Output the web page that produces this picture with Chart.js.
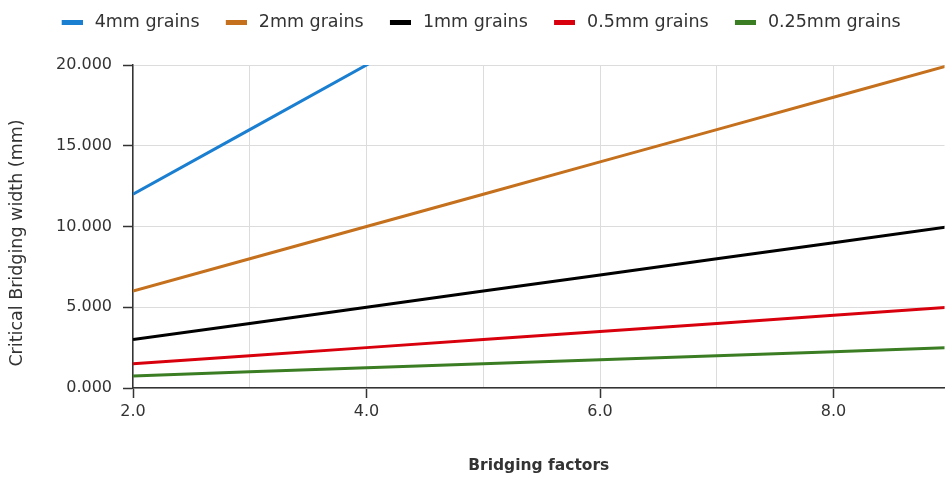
<!DOCTYPE html>
<html>
<head>
<meta charset="utf-8">
<script src="https://cdn.jsdelivr.net/npm/chart.js@4/dist/chart.umd.min.js"></script>
<style>
  html, body { margin: 0; padding: 0; background: #fff; }
  #wrap { width: 946px; height: 477px; position: relative; }
</style>
</head>
<body>
<div id="wrap"><canvas id="c"></canvas></div>
<script>
// Bridging factor on the x axis
const bridgingFactors = [2, 3, 4, 5, 6, 7, 8, 9];

// Critical bridging width (mm) for each grain size
const grains4mm   = [12, 16, 20, 24, 28, 32, 36, 40];
const grains2mm   = [6, 8, 10, 12, 14, 16, 18, 20];
const grains1mm   = [3, 4, 5, 6, 7, 8, 9, 10];
const grains05mm  = [1.5, 2, 2.5, 3, 3.5, 4, 4.5, 5];
const grains025mm = [0.75, 1, 1.25, 1.5, 1.75, 2, 2.25, 2.5];

const seriesNames = ['4mm grains', '2mm grains', '1mm grains', '0.5mm grains', '0.25mm grains'];
const seriesColors = ['#1b7fd1', '#c5701c', '#000000', '#d8000c', '#3b7d23'];

const xLabelTicks = [2, 4, 6, 8];
const yTickValues = [0, 5, 10, 15, 20];

const FONT = '"DejaVu Sans"';
const TEXT = '#333333';
const AXIS = '#333333';
const GRID = '#dcdcdc';
const PLOT_TOP = 65;

// Legend swatch: a short bar, right-aligned in a wider transparent canvas
// so that legend entries get more room between them
function swatch(color) {
  const c = document.createElement('canvas');
  c.width = 34;
  c.height = 5;
  const g = c.getContext('2d');
  g.fillStyle = color;
  g.fillRect(13, 0, 21, 5);
  return c;
}

const allSeries = [grains4mm, grains2mm, grains1mm, grains05mm, grains025mm];
const datasets = allSeries.map((vals, i) => ({
  label: seriesNames[i],
  data: bridgingFactors.map((x, j) => ({ x: x, y: vals[j] })),
  borderColor: seriesColors[i],
  backgroundColor: seriesColors[i],
  pointStyle: swatch(seriesColors[i]),
  borderWidth: 3,
  pointRadius: 0,
  tension: 0,
  fill: false
}));

// Rotated y-axis title drawn beside the axis
const yTitlePlugin = {
  id: 'yTitle',
  afterDraw(chart) {
    const ctx = chart.ctx;
    ctx.save();
    ctx.translate(17, 243);
    ctx.rotate(-Math.PI / 2);
    ctx.font = '17.5px ' + FONT;
    ctx.fillStyle = TEXT;
    ctx.textAlign = 'center';
    ctx.textBaseline = 'middle';
    ctx.fillText('Critical Bridging width (mm)', 0, 0);
    ctx.restore();
  }
};

const chart = new Chart(document.getElementById('c'), {
  type: 'line',
  data: { datasets },
  plugins: [yTitlePlugin],
  options: {
    responsive: true,
    maintainAspectRatio: false,
    animation: false,
    layout: { padding: { left: 0, right: 0, top: 4, bottom: 0 } },
    plugins: {
      tooltip: { enabled: false },
      legend: {
        position: 'top',
        labels: {
          usePointStyle: true,
          pointStyleWidth: 40.5,
          boxHeight: 5,
          padding: 10,
          color: TEXT,
          font: { family: FONT, size: 17.5 }
        }
      }
    },
    scales: {
      x: {
        type: 'linear',
        min: 2,
        max: 8.95,
        afterBuildTicks(scale) {
          const t = [];
          for (let v = 2; v <= 8; v++) t.push({ value: v });
          scale.ticks = t;
        },
        afterFit(scale) { scale.height = 89; },
        ticks: {
          padding: 4,
          color: TEXT,
          font: { family: FONT, size: 16 },
          autoSkip: false,
          maxRotation: 0,
          callback: (v) => xLabelTicks.includes(v) ? v.toFixed(1) : ''
        },
        grid: {
          color: GRID,
          lineWidth: 1,
          tickLength: 10,
          tickColor: (ctx) => (ctx.tick && xLabelTicks.includes(ctx.tick.value)) ? AXIS : 'rgba(0,0,0,0)',
          tickWidth: 1.5
        },
        border: { color: AXIS, width: 1.5 },
        title: {
          display: true,
          text: 'Bridging factors',
          color: TEXT,
          font: { family: FONT, size: 15.5, weight: 'bold' },
          padding: { top: 0, bottom: 2 }
        }
      },
      y: {
        type: 'linear',
        min: 0,
        max: 20,
        afterBuildTicks(scale) {
          scale.ticks = yTickValues.map(v => ({ value: v }));
        },
        afterFit(scale) { scale.width = 133; },
        ticks: {
          padding: 11,
          color: TEXT,
          font: { family: FONT, size: 16 },
          callback: (v) => v.toFixed(3)
        },
        grid: {
          color: GRID,
          lineWidth: 1,
          tickLength: 10,
          tickColor: AXIS,
          tickWidth: 1.5
        },
        border: { color: AXIS, width: 1.5 }
      }
    }
  }
});

// Leave room between the legend row and the plot area
const gap = PLOT_TOP - chart.chartArea.top;
const legendFit = chart.legend.fit.bind(chart.legend);
chart.legend.fit = function () {
  legendFit();
  this.height += gap;
};
chart.update();
</script>
</body>
</html>
